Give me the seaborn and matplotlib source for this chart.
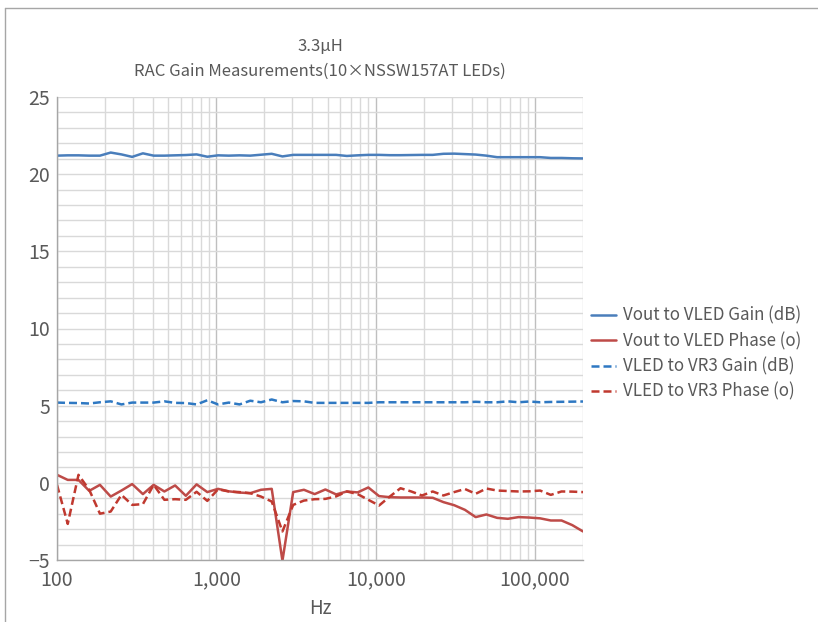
import numpy as np
import pandas as pd
import matplotlib
matplotlib.use("Agg")
import matplotlib.pyplot as plt
from matplotlib.lines import Line2D
from matplotlib.ticker import FixedLocator, NullFormatter, FuncFormatter
import seaborn as sns

freq_hz = [100, 116.8, 136.4, 159.3, 186.0, 217.3, 253.7, 296.3, 346.0, 404.1,
           471.9, 551.1, 643.6, 751.6, 877.7, 1025, 1197, 1398, 1632, 1906,
           2226, 2599, 3035, 3545, 4140, 4834, 5645, 6593, 7699, 8991,
           10499, 12261, 14318, 16721, 19526, 22802, 26628, 31096, 36313, 42406,
           49521, 57830, 67533, 78864, 92096, 107548, 125593, 146666, 171274, 200000]

vout_vled_gain = [21.2, 21.22, 21.22, 21.2, 21.2, 21.4, 21.28, 21.12, 21.35, 21.2,
                  21.2, 21.22, 21.24, 21.28, 21.13, 21.22, 21.2, 21.22, 21.2, 21.26,
                  21.32, 21.15, 21.25, 21.25, 21.25, 21.25, 21.25, 21.18, 21.22, 21.25,
                  21.25, 21.23, 21.23, 21.24, 21.25, 21.25, 21.32, 21.33, 21.3, 21.27,
                  21.2, 21.1, 21.1, 21.1, 21.1, 21.1, 21.05, 21.05, 21.03, 21.02]

vout_vled_phase = [0.52, 0.19, 0.19, -0.52, -0.13, -0.89, -0.5, -0.08, -0.73, -0.13,
                   -0.56, -0.17, -0.84, -0.1, -0.6, -0.39, -0.55, -0.63, -0.67, -0.45,
                   -0.39, -5.05, -0.6, -0.45, -0.73, -0.43, -0.75, -0.56, -0.62, -0.3,
                   -0.86, -0.93, -0.95, -0.95, -0.95, -0.97, -1.25, -1.45, -1.75, -2.22,
                   -2.05, -2.27, -2.33, -2.22, -2.25, -2.3, -2.44, -2.44, -2.74, -3.15]

vled_vr3_gain = [5.2, 5.18, 5.17, 5.14, 5.22, 5.28, 5.08, 5.2, 5.2, 5.2,
                 5.28, 5.18, 5.17, 5.08, 5.35, 5.08, 5.2, 5.08, 5.32, 5.22,
                 5.4, 5.22, 5.3, 5.28, 5.18, 5.18, 5.18, 5.18, 5.18, 5.18,
                 5.22, 5.22, 5.22, 5.22, 5.22, 5.22, 5.22, 5.22, 5.22, 5.25,
                 5.22, 5.22, 5.28, 5.22, 5.27, 5.22, 5.24, 5.25, 5.26, 5.27]

vled_vr3_phase = [-0.13, -2.66, 0.52, -0.45, -2.0, -1.86, -0.78, -1.43, -1.38, -0.13,
                  -1.1, -1.06, -1.1, -0.58, -1.17, -0.42, -0.56, -0.6, -0.67, -0.89,
                  -1.21, -3.15, -1.43, -1.15, -1.06, -1.04, -0.88, -0.56, -0.73, -1.1,
                  -1.47, -0.89, -0.35, -0.56, -0.82, -0.56, -0.82, -0.6, -0.4, -0.71,
                  -0.37, -0.5, -0.53, -0.56, -0.55, -0.5, -0.78, -0.56, -0.57, -0.6]

series_names = ["Vout to VLED Gain (dB)", "Vout to VLED Phase (o)",
                "VLED to VR3 Gain (dB)", "VLED to VR3 Phase (o)"]
series_values = [vout_vled_gain, vout_vled_phase, vled_vr3_gain, vled_vr3_phase]
series_colors = ["#4A7EBB", "#BE4B48", "#2E78C2", "#C0392F"]
series_dashed = [False, False, True, True]

title_lines = ["3.3μH", "RAC Gain Measurements(10×NSSW157AT LEDs)"]
x_tick_values = [100, 1000, 10000, 100000]
x_tick_labels = ["100", "1,000", "10,000", "100,000"]
y_tick_values = [-5, 0, 5, 10, 15, 20, 25]

sns.set_style("white")
plt.rcParams["font.family"] = ["Noto Sans CJK KR", "DejaVu Sans"]
text_color = "#595959"

fig = plt.figure(figsize=(8.18, 6.22), dpi=100)
ax = fig.add_axes([57/818, 1-560/622, (583-57)/818, (560-97)/622])

for name, vals, col, dashed in zip(series_names, series_values, series_colors, series_dashed):
    df = pd.DataFrame({"Hz": freq_hz, "value": vals})
    sns.lineplot(data=df, x="Hz", y="value", ax=ax, color=col,
                 linestyle=(0, (3.2, 1.6)) if dashed else "-",
                 linewidth=1.8, label=name)

ax.set_xscale("log")
ax.set_xlim(100, 200000)
ax.set_ylim(-5, 25)

minor_x = [m * 10**d for d in range(2, 6) for m in range(2, 10) if m * 10**d <= 200000]
ax.xaxis.set_major_locator(FixedLocator(x_tick_values))
ax.xaxis.set_minor_locator(FixedLocator(minor_x))
ax.xaxis.set_major_formatter(FuncFormatter(lambda v, p: x_tick_labels[x_tick_values.index(v)] if v in x_tick_values else ""))
ax.xaxis.set_minor_formatter(NullFormatter())
ax.yaxis.set_major_locator(FixedLocator(y_tick_values))
ax.yaxis.set_minor_locator(FixedLocator(list(range(-5, 26))))
ax.grid(which="major", axis="x", color="#BFBFBF", linewidth=1.0)
ax.grid(which="minor", axis="x", color="#D9D9D9", linewidth=1.0)
ax.grid(which="both", axis="y", color="#D9D9D9", linewidth=1.0)
ax.set_axisbelow(True)

for s in ["top", "right"]:
    ax.spines[s].set_visible(False)
for s in ["left", "bottom"]:
    ax.spines[s].set_color("#A6A6A6")
    ax.spines[s].set_linewidth(1.0)

ax.tick_params(axis="both", which="major", labelsize=14, colors=text_color, length=4, color="#A6A6A6", pad=1)
ax.tick_params(axis="x", which="major", pad=3)
ax.tick_params(axis="both", which="minor", length=0)
ax.set_xlabel("Hz", fontsize=13.5, color=text_color, labelpad=5)
ax.set_ylabel("")

fig.text(320/818, 1-46/622, title_lines[0], ha="center", va="center", fontsize=12, color=text_color)
fig.text(320/818, 1-71/622, title_lines[1], ha="center", va="center", fontsize=12, color=text_color)

leg = ax.legend(loc="upper left", bbox_to_anchor=(583/818 + 0.001, 1-300/622),
                bbox_transform=fig.transFigure, frameon=False, fontsize=12.2,
                handlelength=1.5, handletextpad=0.4, labelspacing=0.42, borderaxespad=0)
for t in leg.get_texts():
    t.set_color(text_color)

fig.add_artist(Line2D([5/818, 1.0], [1-8/622, 1-8/622], transform=fig.transFigure, color="#A6A6A6", linewidth=1.0))
fig.add_artist(Line2D([5/818, 5/818], [0, 1-8/622], transform=fig.transFigure, color="#A6A6A6", linewidth=1.0))

fig.savefig("out.png", dpi=100)
